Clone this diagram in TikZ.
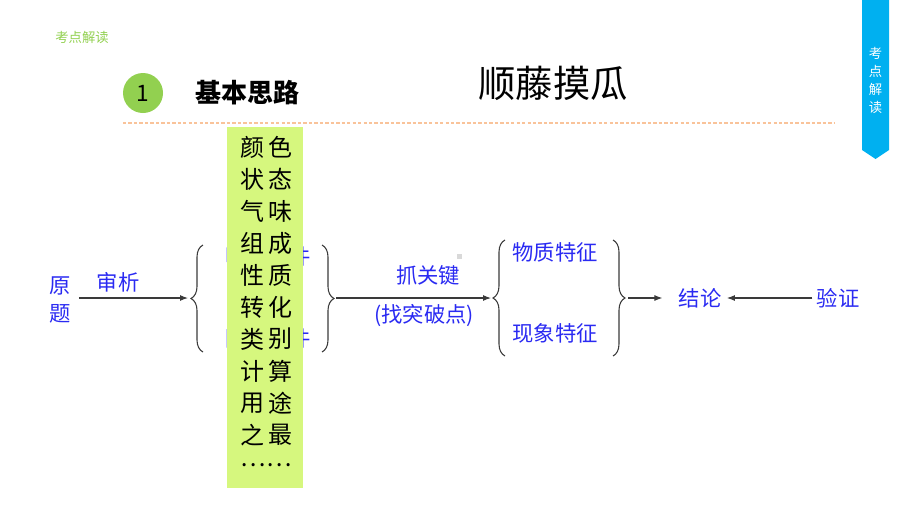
\documentclass[tikz,border=0pt]{standalone}
\usepackage{fontspec}
\setmainfont{Noto Sans CJK SC}
\usepackage{xcolor}
\definecolor{leaf}{HTML}{92D050}
\definecolor{pale-lime}{HTML}{D6F77E}
\definecolor{sky}{HTML}{00B0F0}
\definecolor{peach}{HTML}{F9C39A}
\definecolor{ink}{HTML}{2A2AF2}
\definecolor{graphite}{HTML}{3A3A3A}
\usetikzlibrary{arrows.meta,decorations.pathreplacing,positioning}
\tikzset{
    x=0.75pt,y=-0.75pt,inner sep=0pt,
    flow/.style ={-{Latex[length=6pt,width=4.5pt]}, graphite, line width=0.8pt},
    curly/.style ={graphite, line width=0.8pt, decorate, decoration={brace,amplitude=9pt,aspect=0.5}},
    word/.style = {ink, font=\fontsize{16}{19}\selectfont},
    attr/.style = {black, font=\fontsize{18}{20}\selectfont},
    panel/.style = {fill=pale-lime, minimum width=57pt, minimum height=270.75pt}
}

\begin{document}
\begin{tikzpicture}
      \useasboundingbox (0,0) rectangle (920,518);

      % header
      \node[leaf, font=\fontsize{10}{12}\selectfont] (corner) at (82,37) {考点解读};
      \fill[sky] (862,0) -- (889,0) -- (889,150) -- (875.5,159) -- (862,150) -- cycle;
      \node[white, font=\fontsize{10}{13.5}\selectfont, align=center] (tab) at (875.5,80) {考\\点\\解\\读};
      \node[circle, fill=leaf, minimum size=30pt] (num) at (143,93) {};
      \node[font=\fontsize{17}{18}\selectfont] at (num) {1};
      \node[anchor=west, font=\bfseries\fontsize{19.5}{22}\selectfont] (title) at (195,93) {基本思路};
      \node[font=\fontsize{28}{32}\selectfont] (motto) at (553,83) {顺藤摸瓜};
      \draw[peach, line width=1.3pt, dash pattern=on 2.5pt off 1.6pt] (123,123) -- (835,123);

      % left part
      \node[word, align=center, font=\fontsize{16}{20.5}\selectfont] (yuanti) at (60,300) {原\\题};
      \node[word] (shenxi) at (118,282) {审析};
      \coordinate (b1) at (188,298);
      \draw[curly] (203,352) -- (203,245);
      \node[word] (mingxian) at (268,256) {明显条件};
      \node[word] (yinhan) at (268,338) {隐含条件};
      \draw[curly] (322,245) -- (322,352);
      \coordinate (b2) at (336,298);
      \draw[flow, shorten <=6pt] (yuanti.east |- b1) -- (b1);

      % attribute column
      \node[panel] (attrs) at (265,307.5) {};
      \foreach \l/\r [count=\i] in {颜/色,状/态,气/味,组/成,性/质,转/化,类/别,计/算,用/途,之/最}
      {
        \node[attr] at (252,115+32*\i) {\l};
        \node[attr] at (280,115+32*\i) {\r};
      }
      \node[attr] (more) at (266,465) {……};

      % middle part
      \node[word] (grab) at (428,275) {抓关键};
      \node[word] (breakpt) at (424,316) {(找突破点)};
      \fill[black!15] (456.5,253.5) rectangle +(5,5);
      \coordinate (b3) at (491,298);
      \draw[flow] (b2) -- (b3);
      \draw[curly] (505,356) -- (505,240);
      \node[word] (wuzhi) at (555,252) {物质特征};
      \node[word] (xianxiang) at (555,333) {现象特征};
      \draw[curly] (613,240) -- (613,356);
      \coordinate (b4) at (628,298);

      % right part
      \node[word] (jielun) at (700,298) {结论};
      \node[word] (yanzheng) at (838,298) {验证};
      \draw[flow, shorten >=12pt] (b4) -- (jielun.west);
      \draw[flow, shorten <=3pt, shorten >=4pt] (yanzheng.west) -- (jielun.east);
    \end{tikzpicture}
\end{document}
